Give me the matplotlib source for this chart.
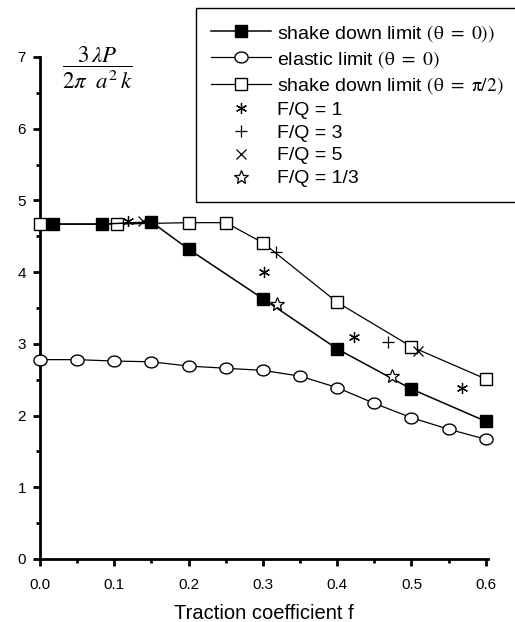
import matplotlib
matplotlib.use("Agg")
import matplotlib.pyplot as plt
import numpy as np
from matplotlib.path import Path
from matplotlib.ticker import MultipleLocator, FormatStrFormatter

plt.rcParams['font.family'] = ['Liberation Sans', 'DejaVu Sans']
plt.rcParams['mathtext.fontset'] = 'stix'

# ---- data ----
f_sd0 = [0.017, 0.083, 0.15, 0.2, 0.3, 0.4, 0.5, 0.6]
sd0 = [4.67, 4.67, 4.70, 4.32, 3.63, 2.93, 2.37, 1.92]

f_el = [0.0, 0.05, 0.1, 0.15, 0.2, 0.25, 0.3, 0.35, 0.4, 0.45, 0.5, 0.55, 0.6]
el = [2.78, 2.78, 2.76, 2.75, 2.69, 2.66, 2.63, 2.55, 2.39, 2.17, 1.97, 1.81, 1.67]

f_sd90 = [0.0, 0.103, 0.2, 0.25, 0.3, 0.4, 0.5, 0.6]
sd90 = [4.67, 4.67, 4.69, 4.69, 4.41, 3.58, 2.96, 2.51]

f_fq1 = [0.118, 0.301, 0.423, 0.568]
fq1 = [4.71, 4.00, 3.10, 2.39]
f_fq3 = [0.317, 0.469]
fq3 = [4.28, 3.03]
f_fq5 = [0.138, 0.509]
fq5 = [4.71, 2.90]
f_fq13 = [0.319, 0.474]
fq13 = [3.56, 2.55]

labels = [r'shake down limit $\mathrm{(\theta\ =\ 0))}$',
          r'elastic limit $\mathrm{(\theta\ =\ 0)}$',
          r'shake down limit $\mathrm{(\theta\ =\ \pi/2)}$',
          'F/Q = 1', 'F/Q = 3', 'F/Q = 5', 'F/Q = 1/3']

# ---- figure ----
fig = plt.figure(figsize=(5.15, 6.22), dpi=100)
ax = fig.add_axes([40/515, 63/622, 448/515, 502/622])

t = np.linspace(0, 2*np.pi, 60)
ellipse = Path(np.column_stack([np.cos(t), 0.82*np.sin(t)]), closed=True)

h1, = ax.plot(f_sd0, sd0, '-', color='black', lw=1.1, marker='s', ms=8.5,
              mfc='black', mec='black', clip_on=False, zorder=4)
h2, = ax.plot(f_el, el, '-', color='black', lw=0.9, marker=ellipse, ms=9.5,
              mfc='white', mec='black', mew=1.0, clip_on=False, zorder=3)
h3, = ax.plot(f_sd90, sd90, '-', color='black', lw=0.9, marker='s', ms=8.5,
              mfc='white', mec='black', mew=1.0, clip_on=False, zorder=3)
h4, = ax.plot(f_fq1, fq1, ls='none', marker=(6, 2, 0), ms=8, color='black',
              mew=0.9, zorder=5)
h5, = ax.plot(f_fq3, fq3, ls='none', marker='+', ms=9, color='black',
              mew=0.9, zorder=5)
h6, = ax.plot(f_fq5, fq5, ls='none', marker='x', ms=7, color='black',
              mew=0.9, zorder=5)
h7, = ax.plot(f_fq13, fq13, ls='none', marker='*', ms=10, mfc='white',
              mec='black', mew=0.9, zorder=5)

ax.set_xlim(0, 0.603)
ax.set_ylim(0, 7)
for s in ['top', 'right']:
    ax.spines[s].set_visible(False)
for s in ['left', 'bottom']:
    ax.spines[s].set_linewidth(2.0)

ax.xaxis.set_major_locator(MultipleLocator(0.1))
ax.xaxis.set_minor_locator(MultipleLocator(0.05))
ax.yaxis.set_major_locator(MultipleLocator(1))
ax.yaxis.set_minor_locator(MultipleLocator(0.5))
ax.xaxis.set_major_formatter(FormatStrFormatter('%.1f'))
ax.tick_params(which='major', direction='out', length=5, width=2.0,
               labelsize=11)
ax.tick_params(axis='x', which='major', pad=8.5)
ax.tick_params(axis='y', which='major', pad=5)
ax.tick_params(which='minor', direction='out', length=3, width=2.0)

ax.set_xlabel('Traction coefficient f', fontsize=14.5, labelpad=8.5)

ax.text(0.128, 0.978, r'$\dfrac{3\,\lambda P}{2\pi\ \ a^2\, k}$', transform=ax.transAxes,
        fontsize=16.5, ha='center', va='center')

leg = fig.legend([h1, h2, h3, h4, h5, h6, h7], labels, loc='upper left',
                 bbox_to_anchor=(196/515, 1 - 8/622), borderaxespad=0,
                 fontsize=14, frameon=True, fancybox=False, edgecolor='black',
                 handlelength=3.1, handletextpad=0.3, labelspacing=0.27,
                 borderpad=0.75, framealpha=1)
leg.get_frame().set_linewidth(1.0)

fig.savefig('out.png', dpi=100)
